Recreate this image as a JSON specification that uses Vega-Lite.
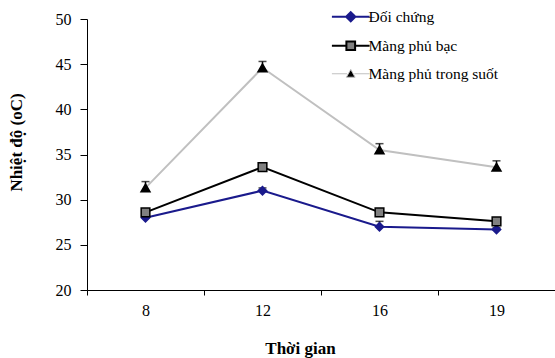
{
  "$schema": "https://vega.github.io/schema/vega-lite/v6.json",
  "autosize": {"type": "none"},
  "padding": {"left": 87, "top": 19, "right": 0, "bottom": 68},
  "width": 468,
  "height": 271,
  "background": "white",
  "config": {
    "view": {"stroke": null},
    "font": "Liberation Serif",
    "axis": {"labelFont": "Liberation Serif", "titleFont": "Liberation Serif", "labelColor": "black", "titleColor": "black", "domainColor": "black", "tickColor": "black", "grid": false}
  },
  "data": {
    "values": [
      {"t": "8", "series": "Đối chứng", "v": 28.0, "hi": 28.2},
      {"t": "12", "series": "Đối chứng", "v": 31.0, "hi": 31.3},
      {"t": "16", "series": "Đối chứng", "v": 27.0, "hi": 27.6},
      {"t": "19", "series": "Đối chứng", "v": 26.7, "hi": 26.9},
      {"t": "8", "series": "Màng phủ bạc", "v": 28.6, "hi": 28.9},
      {"t": "12", "series": "Màng phủ bạc", "v": 33.6, "hi": 33.9},
      {"t": "16", "series": "Màng phủ bạc", "v": 28.6, "hi": 28.9},
      {"t": "19", "series": "Màng phủ bạc", "v": 27.6, "hi": 27.9},
      {"t": "8", "series": "Màng phủ trong suốt", "v": 31.3, "hi": 32.0},
      {"t": "12", "series": "Màng phủ trong suốt", "v": 44.6, "hi": 45.3},
      {"t": "16", "series": "Màng phủ trong suốt", "v": 35.5, "hi": 36.2},
      {"t": "19", "series": "Màng phủ trong suốt", "v": 33.6, "hi": 34.3}
    ]
  },
  "encoding": {
    "x": {
      "field": "t", "type": "ordinal", "sort": ["8", "12", "16", "19"],
      "scale": {"paddingInner": 0, "paddingOuter": 0},
      "axis": {"title": "Thời gian", "labelAngle": 0, "tickBand": "extent", "labelFontSize": 16, "titleFontSize": 17, "titleFontWeight": "bold", "tickSize": 5, "labelPadding": 7, "titlePadding": 22, "titleX": 213}
    }
  },
  "layer": [
    {
      "mark": {"type": "line"},
      "encoding": {
        "y": {"field": "v", "type": "quantitative", "scale": {"domain": [20, 50]},
          "axis": {"title": "Nhiệt độ (oC)", "values": [20, 25, 30, 35, 40, 45, 50], "labelFontSize": 16, "titleFontSize": 17, "titleFontWeight": "bold", "tickSize": 7, "labelPadding": 9, "titlePadding": 30, "titleY": 123}},
        "color": {
          "field": "series", "type": "nominal",
          "scale": {"domain": ["Đối chứng", "Màng phủ bạc", "Màng phủ trong suốt"], "range": ["#1a1a8c", "#000000", "#c0c0c0"]},
          "legend": {
            "title": null, "orient": "none", "legendX": 256, "legendY": -10,
            "padding": 0, "symbolSize": 841, "labelFontSize": 15.5, "labelFont": "Liberation Serif", "labelColor": "black", "labelOffset": 10, "rowPadding": 11, "labelBaseline": "middle",
            "encode": {
              "symbols": {
                "update": {
                  "shape": {"signal": "datum.index === 0 ? 'M-1.3,0H1.3M0,-0.32L0.32,0L0,0.32L-0.32,0Z' : datum.index === 1 ? 'M-1.3,0H-0.3M0.3,0H1.3M-0.3,-0.3H0.3V0.3H-0.3Z' : 'M-1.3,0H-0.25M0.25,0H1.3M0,-0.3L0.3,0.24L-0.3,0.24Z'"},
                  "fill": {"signal": "datum.index === 0 ? '#1a1a8c' : datum.index === 1 ? '#808080' : '#000000'"},
                  "stroke": {"signal": "datum.index === 0 ? '#1a1a8c' : datum.index === 1 ? '#000000' : '#b0b0b0'"},
                  "strokeWidth": {"signal": "datum.index === 2 ? 1 : 2"},
                  "opacity": {"value": 1},
                  "fillOpacity": {"value": 1}
                }
              }
            }
          }
        },
        "strokeWidth": {
          "field": "series", "type": "nominal",
          "scale": {"domain": ["Đối chứng", "Màng phủ bạc", "Màng phủ trong suốt"], "range": [2, 2, 1]},
          "legend": null
        }
      }
    },
    {
      "mark": {"type": "rule", "color": "black", "strokeWidth": 1.5},
      "encoding": {
        "y": {"field": "v", "type": "quantitative"},
        "y2": {"field": "hi"}
      }
    },
    {
      "mark": {"type": "tick", "color": "black", "thickness": 1.5, "size": 8},
      "encoding": {
        "y": {"field": "hi", "type": "quantitative"}
      }
    },
    {
      "mark": {"type": "point", "filled": true, "opacity": 1, "strokeWidth": 1.5},
      "encoding": {
        "y": {"field": "v", "type": "quantitative"},
        "shape": {"field": "series", "type": "nominal",
          "scale": {"domain": ["Đối chứng", "Màng phủ bạc", "Màng phủ trong suốt"], "range": ["diamond", "square", "triangle-up"]}, "legend": null},
        "fill": {"field": "series", "type": "nominal",
          "scale": {"domain": ["Đối chứng", "Màng phủ bạc", "Màng phủ trong suốt"], "range": ["#1a1a8c", "#808080", "#000000"]}, "legend": null},
        "stroke": {"field": "series", "type": "nominal",
          "scale": {"domain": ["Đối chứng", "Màng phủ bạc", "Màng phủ trong suốt"], "range": ["#1a1a8c", "#000000", "#000000"]}, "legend": null},
        "size": {"field": "series", "type": "nominal",
          "scale": {"domain": ["Đối chứng", "Màng phủ bạc", "Màng phủ trong suốt"], "range": [70, 80, 90]}, "legend": null}
      }
    }
  ],
  "resolve": {"scale": {"color": "independent"}}
}
